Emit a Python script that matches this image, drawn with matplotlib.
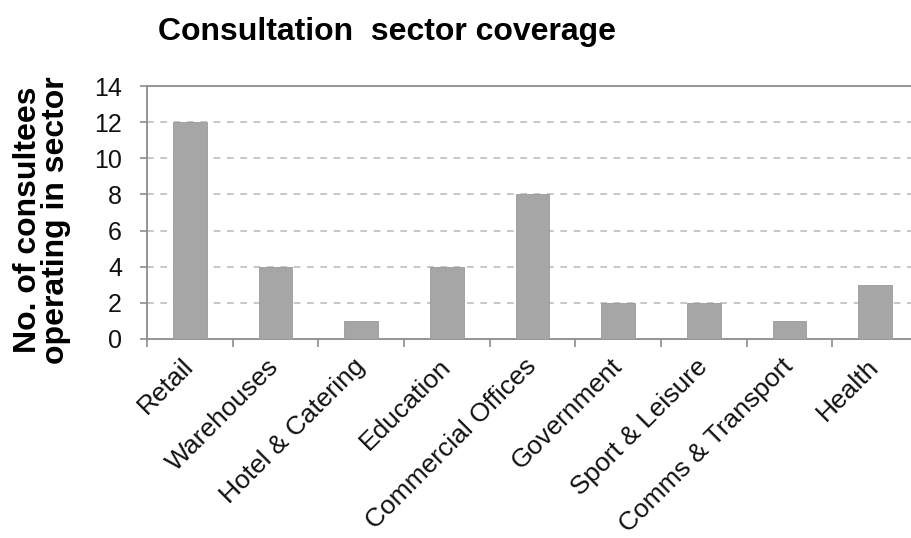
import numpy as np
import matplotlib
matplotlib.use("Agg")
import matplotlib.pyplot as plt
from matplotlib.ticker import FixedLocator

plt.rcParams['font.family'] = ['Liberation Sans', 'DejaVu Sans']

# sector counts
sectors = ["Retail", "Warehouses", "Hotel & Catering", "Education",
           "Commercial Offices", "Government", "Sport & Leisure",
           "Comms & Transport", "Health"]
consultees = [12, 4, 1, 4, 8, 2, 2, 1, 3]
yticks = [0, 2, 4, 6, 8, 10, 12, 14]

axis_grey = "#8c8c8c"
bar_grey = "#a6a6a6"

fig = plt.figure(figsize=(9.11, 5.38), dpi=100)
ax = fig.add_axes([147/911, 1-339/538, (918-147)/911, (339-86)/538])

x = np.arange(len(sectors))
ax.bar(x, consultees, width=0.39, color=bar_grey, edgecolor="#9a9a9a",
       linewidth=0.6, zorder=3)

ax.set_xlim(-0.5, len(sectors) - 0.5)
ax.set_ylim(0, 14)
ax.set_yticks(yticks)
ax.set_yticklabels([str(v) for v in yticks], fontsize=18)

# dashed gridlines, solid line on top
for v in yticks[1:-1]:
    ax.axhline(v, color="#bdbdbd", linestyle=(0, (4, 4)), linewidth=1.2, zorder=1)

for side in ["left", "bottom", "top"]:
    ax.spines[side].set_color(axis_grey)
    ax.spines[side].set_linewidth(1.3)
ax.spines["right"].set_visible(False)

ax.tick_params(axis="y", direction="out", length=5, width=1.2,
               color=axis_grey, pad=13, labelcolor="#111111")

# labels at centres, tick marks on category boundaries
ax.set_xticks(x)
ax.set_xticklabels(sectors, rotation=45, ha="right", va="center",
                   rotation_mode="anchor", fontsize=19, color="#111111")
ax.tick_params(axis="x", which="major", length=0, pad=17)
ax.xaxis.set_minor_locator(FixedLocator(np.arange(-0.5, len(sectors), 1.0)))
ax.tick_params(axis="x", which="minor", direction="out", length=6,
               width=1.2, color=axis_grey)

fig.text(387/911, 1-40/538, "Consultation  sector coverage",
         ha="center", va="baseline", fontsize=23, fontweight="bold")
fig.text(42/911, 1-220/538, "No. of consultees\noperating in sector",
         ha="center", va="center", rotation=90, multialignment="center",
         fontsize=23, fontweight="bold", linespacing=0.95)

fig.savefig("out.png", dpi=100)
